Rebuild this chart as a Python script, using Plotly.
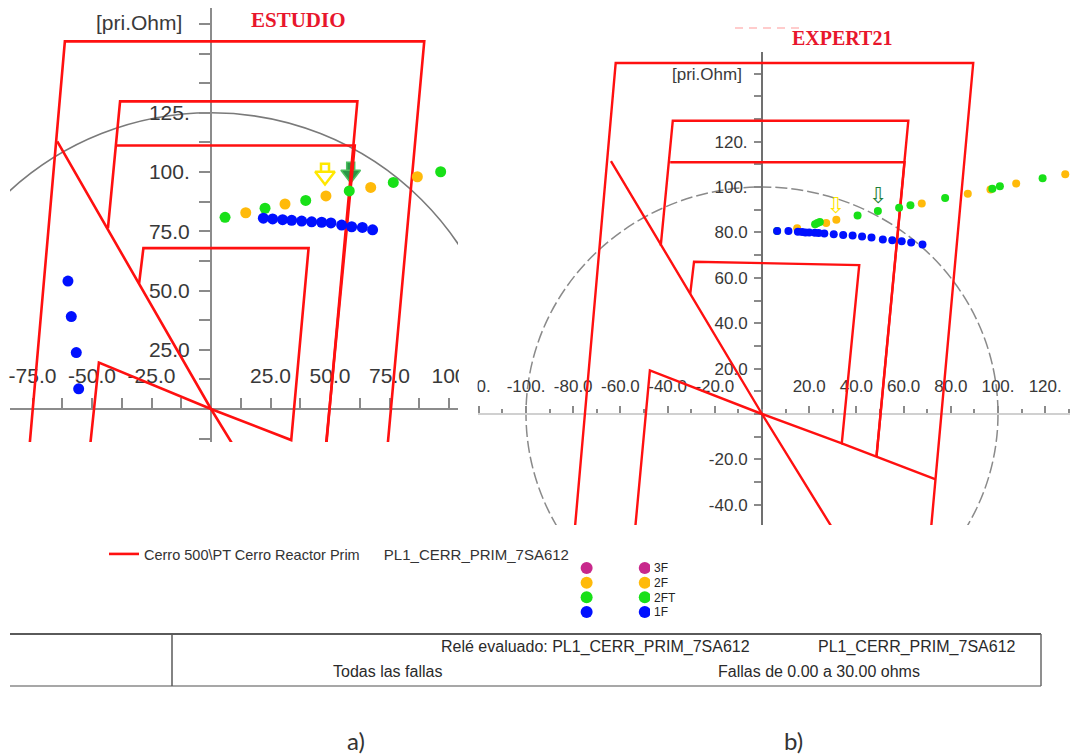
import plotly.graph_objects as go

W, H = 1070, 755
SANS = "Liberation Sans, Arial, sans-serif"
SERIF = "Liberation Serif, Times New Roman, serif"

# ---------------- panel a) ESTUDIO : zone polylines (R, X in primary ohms) ----------------
A_OUTER_R = [-77.5, -61.4, 89.6, 72.9]
A_OUTER_X = [-30.0, 155.1, 155.1, -30.0]
A_ZONE2_R = [-43.3, -38.2, 61.5, 47.1]
A_ZONE2_X = [76.3, 129.8, 129.8, -30.0]
A_ZONE1B_R = [-40.0, 60.4, 46.9]
A_ZONE1B_X = [111.2, 111.2, -30.0]
A_DIRECTION_R = [-64.6, 0.0, 18.3]
A_DIRECTION_X = [112.9, 0.0, -30.0]
A_ZONE1_R = [-30.2, -28.4, 41.0, 33.7, 0.0, -47.1, -52.3]
A_ZONE1_X = [53.0, 67.9, 67.9, -13.1, 0.0, 19.6, -30.0]
A_CIRCLE_RADIUS = 125.0

A_1F_R = [22.0, 25.9, 30.1, 33.9, 38.1, 42.3, 46.5, 50.4, 54.9, 59.1, 63.6, 67.9, -60.1, -58.7, -56.6, -55.6]
A_1F_X = [80.5, 80.2, 79.9, 79.6, 79.3, 79.0, 78.8, 78.5, 77.6, 76.9, 76.6, 75.6, 54.0, 39.0, 23.8, 8.5]
A_2FT_R = [5.9, 22.7, 39.8, 58.1, 76.6, 96.5]
A_2FT_X = [80.9, 84.7, 88.0, 92.0, 95.6, 100.1]
A_2F_R = [14.6, 31.1, 48.3, 67.1, 86.7]
A_2F_X = [82.8, 86.5, 89.9, 93.5, 98.0]
A_ARROW_2F = [47.9, 99.2]
A_ARROW_2FT = [58.7, 99.8]

# tick labels as they appear (the panel crops cut "100." and "-120.")
A_XTICK_VALS = [-75, -50, -25, 25, 50, 75, 100]
A_XTICK_TEXT = ["-75.0", "-50.0", "-25.0", "25.0", "50.0", "75.0", "100"]
A_YTICK_VALS = [25, 50, 75, 100, 125]
A_YTICK_TEXT = ["25.0", "50.0", "75.0", "100.", "125."]

# ---------------- panel b) EXPERT21 ----------------
B_OUTER_R = [-80.1, -62.0, 89.5, 70.8]
B_OUTER_X = [-60.0, 154.6, 154.6, -60.0]
B_ZONE2_R = [-42.9, -37.8, 62.0, 48.5]
B_ZONE2_X = [74.2, 129.2, 129.2, -18.9]
B_ZONE1B_R = [-38.9, 60.4, 48.5]
B_ZONE1B_X = [110.9, 110.9, -18.9]
B_DIRECTION_R = [-64.0, 0.0, 35.6]
B_DIRECTION_X = [111.4, 0.0, -60.0]
B_ZONE1_R = [-30.4, -28.8, 41.2, 33.8, 0.0, -47.5, -54.6]
B_ZONE1_X = [53.0, 67.1, 65.6, -12.9, 0.0, 19.2, -60.0]
B_LOWER_R = [33.8, 73.6]
B_LOWER_X = [-12.9, -28.8]
B_CIRCLE_RADIUS = 100.0

B_1F_R = [6.4, 11.2, 15.2, 17.0, 18.4, 20.0, 22.4, 24.0, 26.4, 30.4, 34.4, 38.4, 42.4, 46.4, 51.2, 55.2, 59.2, 63.2, 68.0]
B_1F_X = [80.6, 80.6, 80.3, 80.2, 80.0, 80.0, 79.8, 79.7, 79.5, 79.2, 78.9, 78.6, 78.2, 77.7, 76.9, 76.5, 76.1, 75.6, 74.7]
B_2FT_R = [6.4, 22.5, 23.5, 24.5, 40.5, 49.1, 58.1, 62.9, 77.6, 97.6, 100.8, 118.9]
B_2FT_X = [80.6, 83.6, 84.1, 84.6, 87.4, 89.4, 90.9, 92.0, 95.2, 99.2, 100.3, 103.8]
B_2F_R = [14.9, 27.2, 31.5, 67.7, 87.2, 96.8, 107.7, 128.5]
B_2F_X = [81.8, 84.1, 85.6, 92.7, 97.0, 98.9, 101.5, 105.6]
B_ARROW_2F = [31.2, 90.9]
B_ARROW_2FT = [49.1, 95.5]

B_XTICK_VALS = [-120, -100, -80, -60, -40, -20, 20, 40, 60, 80, 100, 120]
B_XTICK_TEXT = ["20.", "-100.", "-80.0", "-60.0", "-40.0", "-20.0", "20.0", "40.0", "60.0", "80.0", "100.", "120."]
B_YTICK_VALS = [-40, -20, 20, 40, 60, 80, 100, 120]
B_YTICK_TEXT = ["-40.0", "-20.0", "20.0", "40.0", "60.0", "80.0", "100.", "120."]

# ---------------- legend / labels ----------------
SERIES_NAMES = ["1F", "2FT", "2F", "3F"]          # bottom -> top
SERIES_COLORS = ["#0010ff", "#18e018", "#ffba0a", "#c8288c"]
LEGEND_COLUMNS = ["ESTUDIO", "EXPERT21"]
RELAY_LINE_NAME = "Cerro 500\\PT Cerro Reactor Prim"
RELAY_NAME = "PL1_CERR_PRIM_7SA612"
TABLE_RELAY = "Relé evaluado: PL1_CERR_PRIM_7SA612"
TABLE_ALL = "Todas las fallas"
TABLE_RANGE = "Fallas de 0.00 a 30.00 ohms"

RED = "#ff1010"
C_1F, C_2FT, C_2F, C_3F = SERIES_COLORS

# pixel scales of the two panels (layout)
A_ORIGIN = (211, 409)
A_SCALE = (2.38, 2.37)
B_ORIGIN = (762, 414)
B_SCALE = (2.36, 2.27)


def joined(pairs):
    xs, ys = [], []
    for r, x in pairs:
        xs += list(r) + [None]
        ys += list(x) + [None]
    return xs, ys


def px_x(p):
    return p / W


def px_y(p):
    return 1 - p / H


fig = go.Figure()


def glyph_arrow(pt, glyph, size, color, xa, ya):
    return go.Scatter(x=[pt[0]], y=[pt[1]], mode="text", text=[glyph],
                      textfont=dict(size=size, color=color, family="DejaVu Sans"),
                      xaxis=xa, yaxis=ya, showlegend=False, hoverinfo="skip")


def block_arrow(pt, scale_y, fill, edge, edge_w, xa, ya):
    # downward block arrow centred on pt: square shaft above a triangular head
    head_size, shaft_size = 17, 8
    head_y = pt[1] - 2.0 / scale_y
    shaft_y = pt[1] + 6.2 / scale_y
    head = go.Scatter(x=[pt[0]], y=[head_y], mode="markers",
                      marker=dict(symbol="triangle-down", size=head_size, color=fill,
                                  line=dict(color=edge, width=edge_w)),
                      xaxis=xa, yaxis=ya, showlegend=False, hoverinfo="skip")
    shaft = go.Scatter(x=[pt[0]], y=[shaft_y], mode="markers",
                       marker=dict(symbol="square", size=shaft_size, color=fill,
                                   line=dict(color=edge, width=edge_w)),
                       xaxis=xa, yaxis=ya, showlegend=False, hoverinfo="skip")
    return [head, shaft]


# ---- panel a traces ----
for t in block_arrow(A_ARROW_2F, A_SCALE[1], "white", "#ffe800", 2.5, "x", "y"):
    fig.add_trace(t)
for t in block_arrow(A_ARROW_2FT, A_SCALE[1], "#2a9646", "#4cc060", 1.5, "x", "y"):
    fig.add_trace(t)
ax, ay = joined([(A_OUTER_R, A_OUTER_X), (A_ZONE2_R, A_ZONE2_X), (A_ZONE1B_R, A_ZONE1B_X),
                 (A_DIRECTION_R, A_DIRECTION_X), (A_ZONE1_R, A_ZONE1_X)])
name_html = (RELAY_LINE_NAME + "\u00a0" * 6 +
             "<span style='font-size:15px'>" + RELAY_NAME + "</span>")
fig.add_trace(go.Scatter(x=ax, y=ay, mode="lines", line=dict(color=RED, width=2.6),
                         name=name_html, legendgroup="relay", showlegend=True,
                         xaxis="x", yaxis="y", hoverinfo="skip"))
for rs, xs, c in [(A_2F_R, A_2F_X, C_2F), (A_2FT_R, A_2FT_X, C_2FT), (A_1F_R, A_1F_X, C_1F)]:
    fig.add_trace(go.Scatter(x=rs, y=xs, mode="markers", marker=dict(color=c, size=11),
                             xaxis="x", yaxis="y", showlegend=False, hoverinfo="skip"))

# ---- panel b traces ----
fig.add_trace(glyph_arrow(B_ARROW_2F, "⇩", 22, "#ffe600", "x2", "y2"))
fig.add_trace(glyph_arrow(B_ARROW_2FT, "⇩", 22, "#1f7f3a", "x2", "y2"))
bx, by = joined([(B_OUTER_R, B_OUTER_X), (B_ZONE2_R, B_ZONE2_X), (B_ZONE1B_R, B_ZONE1B_X),
                 (B_DIRECTION_R, B_DIRECTION_X), (B_ZONE1_R, B_ZONE1_X), (B_LOWER_R, B_LOWER_X)])
fig.add_trace(go.Scatter(x=bx, y=by, mode="lines", line=dict(color=RED, width=2.4),
                         name=name_html, legendgroup="relay", showlegend=False,
                         xaxis="x2", yaxis="y2", hoverinfo="skip"))
for rs, xs, c in [(B_2F_R, B_2F_X, C_2F), (B_2FT_R, B_2FT_X, C_2FT), (B_1F_R, B_1F_X, C_1F)]:
    fig.add_trace(go.Scatter(x=rs, y=xs, mode="markers", marker=dict(color=c, size=8),
                             xaxis="x2", yaxis="y2", showlegend=False, hoverinfo="skip"))

# ---- series key (two columns of dots) ----
for name, color in zip(SERIES_NAMES, SERIES_COLORS):
    fig.add_trace(go.Scatter(x=LEGEND_COLUMNS, y=[name] * len(LEGEND_COLUMNS), mode="markers",
                             marker=dict(color=color, size=12), xaxis="x3", yaxis="y3",
                             showlegend=False, hoverinfo="skip"))


def axis_base(size, linecolor):
    return dict(showgrid=False, zeroline=False, showline=True, linecolor=linecolor, linewidth=2,
                ticks="outside", tickcolor="#8a8a8a", tickwidth=1.5, layer="below traces",
                tickfont=dict(family=SANS, size=size, color="#383838"), fixedrange=True,
                tickmode="array", automargin=False)


def span(lo, hi, origin, scale, flip=False):
    if flip:
        return [(origin - hi) / scale, (origin - lo) / scale]
    return [(lo - origin) / scale, (hi - origin) / scale]


# panel a
xa = axis_base(21, "#8c8c8c")
xa.update(domain=[px_x(10), px_x(458)], range=span(10, 458, A_ORIGIN[0], A_SCALE[0]),
          anchor="free", position=px_y(A_ORIGIN[1]), side="top", tickvals=A_XTICK_VALS,
          ticktext=A_XTICK_TEXT, ticklen=10, ticklabelstandoff=7,
          minor=dict(dtick=12.5, tick0=0, ticks="outside", ticklen=10, tickwidth=1.5,
                     tickcolor="#8a8a8a", showgrid=False))
ya = axis_base(21, "#8c8c8c")
ya.update(domain=[px_y(442), px_y(8)], range=span(8, 442, A_ORIGIN[1], A_SCALE[1], flip=True),
          anchor="free", position=px_x(A_ORIGIN[0]), side="left", tickvals=A_YTICK_VALS,
          ticktext=A_YTICK_TEXT, ticklen=11, ticklabelstandoff=5,
          minor=dict(dtick=12.5, tick0=0, ticks="outside", ticklen=11, tickwidth=1.5,
                     tickcolor="#8a8a8a", showgrid=False))

# panel b
xb = axis_base(17, "#d0d0d0")
xb.update(domain=[px_x(478), 1.0], range=span(478, 1070, B_ORIGIN[0], B_SCALE[0]),
          anchor="free", position=px_y(B_ORIGIN[1]), side="top", tickvals=B_XTICK_VALS,
          ticktext=B_XTICK_TEXT, ticklen=7, ticklabelstandoff=7,
          minor=dict(dtick=10, tick0=0, ticks="outside", ticklen=4, tickwidth=1.5,
                     tickcolor="#8a8a8a", showgrid=False))
yb = axis_base(17, "#707070")
yb.update(domain=[px_y(525), px_y(51.7)], range=span(51.7, 525, B_ORIGIN[1], B_SCALE[1], flip=True),
          anchor="free", position=px_x(B_ORIGIN[0]), side="left", tickvals=B_YTICK_VALS,
          ticktext=B_YTICK_TEXT, ticklen=7, ticklabelstandoff=3,
          minor=dict(dtick=10, tick0=0, ticks="outside", ticklen=7, tickwidth=1.5,
                     tickcolor="#8a8a8a", showgrid=False))

x3 = dict(domain=[px_x(575), px_x(650)], type="category", categoryorder="array",
          categoryarray=LEGEND_COLUMNS, range=[-0.2, 1.09], visible=False, anchor="y3",
          fixedrange=True, automargin=False)
y3 = dict(domain=[px_y(620), px_y(560)], type="category", categoryorder="array",
          categoryarray=SERIES_NAMES, range=[-0.545, 3.545], side="right", anchor="x3",
          tickmode="array", tickvals=SERIES_NAMES, ticktext=SERIES_NAMES,
          showline=False, ticks="", showgrid=False, zeroline=False, fixedrange=True,
          automargin=False,
          tickfont=dict(family=SANS, size=12, color="#222222"), ticklabelstandoff=3)

shapes = [
    dict(type="circle", xref="x", yref="y", x0=-A_CIRCLE_RADIUS, x1=A_CIRCLE_RADIUS,
         y0=-A_CIRCLE_RADIUS, y1=A_CIRCLE_RADIUS, line=dict(color="#7a7a7a", width=1.6),
         layer="below"),
    dict(type="circle", xref="x2", yref="y2", x0=-B_CIRCLE_RADIUS, x1=B_CIRCLE_RADIUS,
         y0=-B_CIRCLE_RADIUS, y1=B_CIRCLE_RADIUS,
         line=dict(color="#8a8a8a", width=1.5, dash="12px,4px"), layer="below"),
    # white gap between the two cropped panels
    dict(type="rect", xref="paper", yref="paper", x0=px_x(459), x1=px_x(477.5),
         y0=px_y(413), y1=px_y(355), fillcolor="white", line=dict(width=0), layer="above"),
    # faint mark above EXPERT21
    dict(type="line", xref="paper", yref="paper", x0=px_x(735), x1=px_x(800),
         y0=px_y(28), y1=px_y(28), line=dict(color="rgba(255,110,110,0.35)", width=2,
                                               dash="8px,6px")),
    # table
    dict(type="line", xref="paper", yref="paper", x0=px_x(10), x1=px_x(1041),
         y0=px_y(634), y1=px_y(634), line=dict(color="#5a5a5a", width=2)),
    dict(type="line", xref="paper", yref="paper", x0=px_x(10), x1=px_x(1041),
         y0=px_y(686), y1=px_y(686), line=dict(color="#8a8a8a", width=1.5)),
    dict(type="line", xref="paper", yref="paper", x0=px_x(172), x1=px_x(172),
         y0=px_y(634), y1=px_y(686), line=dict(color="#5a5a5a", width=1.5)),
    dict(type="line", xref="paper", yref="paper", x0=px_x(1041), x1=px_x(1041),
         y0=px_y(634), y1=px_y(686), line=dict(color="#6a6a6a", width=1.5)),
]


def ann(text, x, y, size, color="#333333", family=SANS, xanchor="center"):
    return dict(text=text, x=px_x(x), y=px_y(y), xref="paper", yref="paper", showarrow=False,
                xanchor=xanchor, yanchor="middle", font=dict(size=size, color=color, family=family))


annotations = [
    ann("<b>ESTUDIO</b>", 298, 20, 21, "#e8162c", SERIF),
    ann("<b>EXPERT21</b>", 842, 38, 20, "#e8162c", SERIF),
    ann("[pri.Ohm]", 184, 23, 21, "#3a3a3a", xanchor="right"),
    ann("[pri.Ohm]", 744, 75, 17, "#3a3a3a", xanchor="right"),
    ann(TABLE_RELAY, 752, 647, 16, "#2a2a2a", xanchor="right"),
    ann(RELAY_NAME, 1018, 647, 16, "#2a2a2a", xanchor="right"),
    ann(TABLE_ALL, 387, 671, 16, "#2a2a2a"),
    ann(TABLE_RANGE, 922, 671, 16, "#2a2a2a", xanchor="right"),
    ann("a)", 356, 740, 24, "#333333", "Lato, DejaVu Sans, sans-serif"),
    ann("b)", 793, 740, 24, "#333333", "Lato, DejaVu Sans, sans-serif"),
]

fig.update_layout(
    width=W, height=H, autosize=False,
    margin=dict(l=0, r=0, t=0, b=0, pad=0, autoexpand=False),
    paper_bgcolor="white", plot_bgcolor="white",
    xaxis=xa, yaxis=ya, xaxis2=xb, yaxis2=yb, xaxis3=x3, yaxis3=y3,
    shapes=shapes, annotations=annotations,
    showlegend=True,
    legend=dict(x=px_x(104), y=px_y(538), xanchor="left", yanchor="top",
                bgcolor="rgba(0,0,0,0)", borderwidth=0,
                font=dict(family=SANS, size=14.5, color="#333333")),
)

fig.write_html("out.html", config={"displayModeBar": False, "responsive": False},
               post_script="document.body.style.margin='0px';")
